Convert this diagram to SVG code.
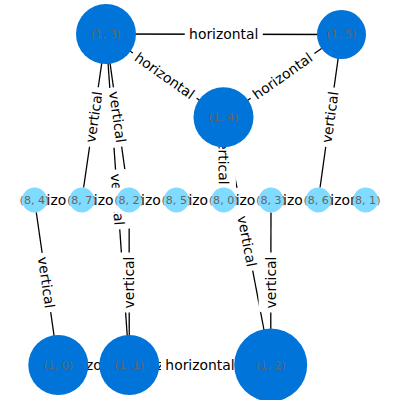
<svg xmlns="http://www.w3.org/2000/svg" width="400" height="400" viewBox="0 0 400 400">
<style>
.e line{stroke:#000;stroke-width:1.3;fill:none}
.bx{fill:#fff;stroke:none}
.lb text{font-family:"DejaVu Sans",sans-serif;font-size:13.9px;fill:#000;text-anchor:middle;dominant-baseline:central}
.big{fill:#0074D9}
.small{fill:#7FDBFF}
.nl{font-family:"DejaVu Sans",sans-serif;font-size:11.1px;fill:#666;text-anchor:middle;dominant-baseline:central}
</style>
<defs>
<rect id="hb" class="bx" x="-39" y="-12.25" width="78" height="24.5" rx="4" fill="#fff"/>
<rect id="vb" class="bx" x="-30" y="-12.25" width="60" height="24.5" rx="4" fill="#fff"/>
</defs>
<rect width="400" height="400" fill="#fff"/>
<g id="connectors" class="e">
<line x1="106" y1="34" x2="341.5" y2="34.5"/>
<line x1="106" y1="34" x2="223.5" y2="117.3"/>
<line x1="223.5" y1="117.3" x2="341.5" y2="34.5"/>
<line x1="106" y1="34" x2="81.8" y2="200"/>
<line x1="106" y1="34" x2="129.1" y2="200"/>
<line x1="106" y1="34" x2="129.3" y2="365"/>
<line x1="223.5" y1="117.3" x2="223.7" y2="200"/>
<line x1="223.5" y1="117.3" x2="270.7" y2="365"/>
<line x1="341.5" y1="34.5" x2="318.3" y2="200"/>
<line x1="34.5" y1="200" x2="58.3" y2="365"/>
<line x1="129.1" y1="200" x2="129.3" y2="365"/>
<line x1="271" y1="200" x2="270.7" y2="365"/>
<line x1="34.5" y1="200" x2="365.6" y2="200"/>
<line x1="58.3" y1="365" x2="270.7" y2="365"/>
</g>
<g id="edge-labels" class="lb">
<g transform="translate(223.75,34.25)"><use href="#hb"/><text>horizontal</text></g>
<g transform="translate(164.75,75.65) rotate(35.33)"><use href="#hb"/><text>horizontal</text></g>
<g transform="translate(282.5,75.9) rotate(-35.06)"><use href="#hb"/><text>horizontal</text></g>
<g transform="translate(93.9,117) rotate(-81.71)"><use href="#vb"/><text>vertical</text></g>
<g transform="translate(117.55,117) rotate(82.08)"><use href="#vb"/><text>vertical</text></g>
<g transform="translate(117.65,199.5) rotate(85.97)"><use href="#vb"/><text>vertical</text></g>
<g transform="translate(223.6,158.65) rotate(89.86)"><use href="#vb"/><text>vertical</text></g>
<g transform="translate(247.1,241.15) rotate(79.21)"><use href="#vb"/><text>vertical</text></g>
<g transform="translate(329.9,117.25) rotate(-82.02)"><use href="#vb"/><text>vertical</text></g>
<g transform="translate(46.4,282.5) rotate(81.79)"><use href="#vb"/><text>vertical</text></g>
<g transform="translate(129.2,282.5) rotate(-90)"><use href="#vb"/><text>vertical</text></g>
<g transform="translate(270.85,282.5) rotate(-90)"><use href="#vb"/><text>vertical</text></g>
<g transform="translate(58.15,200)"><use href="#hb"/><text>horizontal</text></g>
<g transform="translate(105.45,200)"><use href="#hb"/><text>horizontal</text></g>
<g transform="translate(152.75,200)"><use href="#hb"/><text>horizontal</text></g>
<g transform="translate(200.05,200)"><use href="#hb"/><text>horizontal</text></g>
<g transform="translate(247.35,200)"><use href="#hb"/><text>horizontal</text></g>
<g transform="translate(294.65,200)"><use href="#hb"/><text>horizontal</text></g>
<g transform="translate(341.95,200)"><use href="#hb"/><text>horizontal</text></g>
<g transform="translate(164.5,365)"><use href="#hb"/><text>horizontal</text></g>
<g transform="translate(200,365)"><use href="#hb"/><text>horizontal</text></g>
<g transform="translate(93.8,365)"><use href="#hb"/><text>horizontal</text></g>
</g>
<g id="n13"><circle class="big" cx="106" cy="34" r="30"/><text class="nl" x="106" y="34">(1, 3)</text></g>
<g id="n15"><circle class="big" cx="341.5" cy="34.5" r="24.5"/><text class="nl" x="341.5" y="34.5">(1, 5)</text></g>
<g id="n14"><circle class="big" cx="223.5" cy="117.3" r="30"/><text class="nl" x="223.5" y="117.3">(1, 4)</text></g>
<g id="n84"><circle class="small" cx="34.5" cy="200" r="12.5"/><text class="nl" x="34.5" y="200">(8, 4)</text></g>
<g id="n87"><circle class="small" cx="81.8" cy="200" r="12.5"/><text class="nl" x="81.8" y="200">(8, 7)</text></g>
<g id="n82"><circle class="small" cx="129.1" cy="200" r="12.5"/><text class="nl" x="129.1" y="200">(8, 2)</text></g>
<g id="n85"><circle class="small" cx="176.4" cy="200" r="12.5"/><text class="nl" x="176.4" y="200">(8, 5)</text></g>
<g id="n80"><circle class="small" cx="223.7" cy="200" r="12.5"/><text class="nl" x="223.7" y="200">(8, 0)</text></g>
<g id="n83"><circle class="small" cx="271" cy="200" r="12.5"/><text class="nl" x="271" y="200">(8, 3)</text></g>
<g id="n86"><circle class="small" cx="318.3" cy="200" r="12.5"/><text class="nl" x="318.3" y="200">(8, 6)</text></g>
<g id="n81"><circle class="small" cx="365.6" cy="200" r="12.5"/><text class="nl" x="365.6" y="200">(8, 1)</text></g>
<g id="n10"><circle class="big" cx="58.3" cy="365" r="30"/><text class="nl" x="58.3" y="365">(1, 0)</text></g>
<g id="n11"><circle class="big" cx="129.3" cy="365" r="30"/><text class="nl" x="129.3" y="365">(1, 1)</text></g>
<g id="n12"><circle class="big" cx="270.7" cy="365" r="36.5"/><text class="nl" x="270.7" y="365">(1, 2)</text></g>
</svg>
